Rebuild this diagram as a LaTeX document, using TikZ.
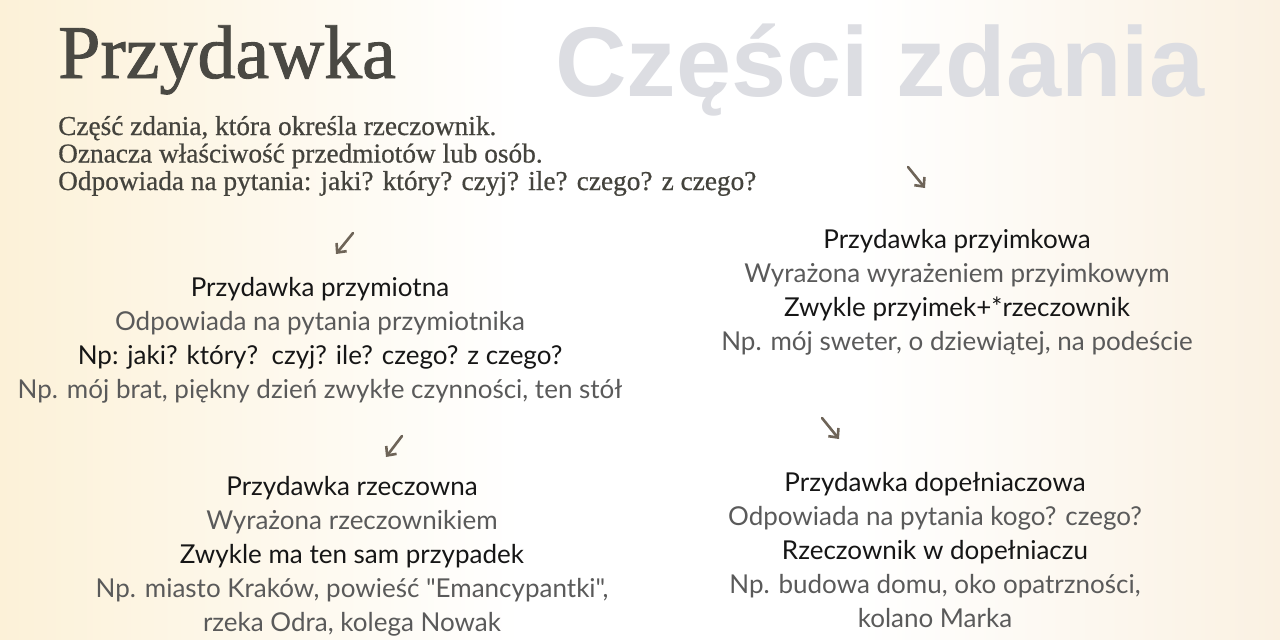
\documentclass[tikz,border=0pt]{standalone}
\usepackage{fontspec}
\usepackage{tikz}
\usetikzlibrary{shapes,arrows,arrows.meta,positioning,calc}
\setmainfont{Liberation Serif}
\newfontfamily\titleserif[FakeBold=1.2]{Liberation Serif}
\newfontfamily\introserif[FakeBold=0.6]{Liberation Serif}
\newfontfamily\bigsans{Liberation Sans}
\newfontfamily\blocksans{Lato}

\definecolor{inktitle}{HTML}{4A4943}
\definecolor{inkbody}{HTML}{44433D}
\definecolor{inkghost}{HTML}{DCDDE2}
\definecolor{inkdark}{HTML}{161616}
\definecolor{inksoft}{HTML}{5A5A5A}
\definecolor{inkarrow}{HTML}{6E6458}
\definecolor{bgwarm}{HTML}{FCF1D8}
\definecolor{bgwarmb}{HTML}{FAF1E2}

\newcommand{\hd}[1]{\textcolor{inkdark}{#1}}
\newcommand{\sft}[1]{\textcolor{inksoft}{#1}}

\tikzset{
  block/.style={anchor=base, inner sep=0pt, align=center,
    font=\blocksans\fontsize{26}{33.8}\selectfont},
  hint/.style={-{Straight Barb[length=7pt,width=13pt,line width=2.6pt]}, line width=2.6pt, inkarrow, line cap=round},
}

\begin{document}
\begin{tikzpicture}[x=1pt, y=-1pt]
  % background
  \useasboundingbox (0,0) rectangle (1280,640);
  \fill[white] (0,0) rectangle (1280,640);
  \shade[left color=bgwarm, right color=white] (0,0) rectangle (520,640);
  \shade[left color=white, right color=bgwarmb] (860,0) rectangle (1280,640);

  % headings
  \node[anchor=base west, inner sep=0pt, text=inkghost, font=\bigsans\bfseries\fontsize{99}{99}\selectfont] (ghost) at (555,96) {Części zdania};
  \node[anchor=base west, inner sep=0pt, text=inktitle, font=\titleserif\fontsize{76}{76}\selectfont] (title) at (58,78) {Przydawka};
  % base of a multi-line node = last line
  \node[anchor=base west, inner sep=0pt, text=inkbody, align=left, font=\introserif\fontsize{27.3}{27.5}\selectfont] (intro) at (58,190)
    {Część zdania, która określa rzeczownik.\\
     Oznacza właściwość przedmiotów lub osób.\\
     Odpowiada na pytania: jaki? który? czyj? ile? czego? z czego?};

  % blocks
  \node[block] (adj) at (320,398)
    {\hd{Przydawka przymiotna}\\
     \sft{Odpowiada na pytania przymiotnika}\\
     \hd{Np: jaki? który?\ \ czyj? ile? czego? z czego?}\\
     \sft{Np. mój brat, piękny dzień zwykłe czynności, ten stół}};
  \node[block] (prep) at (957,350)
    {\hd{Przydawka przyimkowa}\\
     \sft{Wyrażona wyrażeniem przyimkowym}\\
     \hd{Zwykle przyimek+*rzeczownik}\\
     \sft{Np. mój sweter, o dziewiątej, na podeście}};
  \node[block] (noun) at (352,631)
    {\hd{Przydawka rzeczowna}\\
     \sft{Wyrażona rzeczownikiem}\\
     \hd{Zwykle ma ten sam przypadek}\\
     \sft{Np. miasto Kraków, powieść "Emancypantki",}\\
     \sft{rzeka Odra, kolega Nowak}};
  \node[block] (gen) at (935,627)
    {\hd{Przydawka dopełniaczowa}\\
     \sft{Odpowiada na pytania kogo? czego?}\\
     \hd{Rzeczownik w dopełniaczu}\\
     \sft{Np. budowa domu, oko opatrzności,}\\
     \sft{kolano Marka}};

  % small arrows
  \coordinate (adjA) at (353,233);  \coordinate (adjB) at (336,254);
  \coordinate (prepA) at (908,167); \coordinate (prepB) at (925,188);
  \coordinate (nounA) at (402,436); \coordinate (nounB) at (386,457);
  \coordinate (genA) at (822,418);  \coordinate (genB) at (839,439);
  \draw[hint] (adjA) -- (adjB);
  \draw[hint] (prepA) -- (prepB);
  \draw[hint] (nounA) -- (nounB);
  \draw[hint] (genA) -- (genB);
\end{tikzpicture}
\end{document}
